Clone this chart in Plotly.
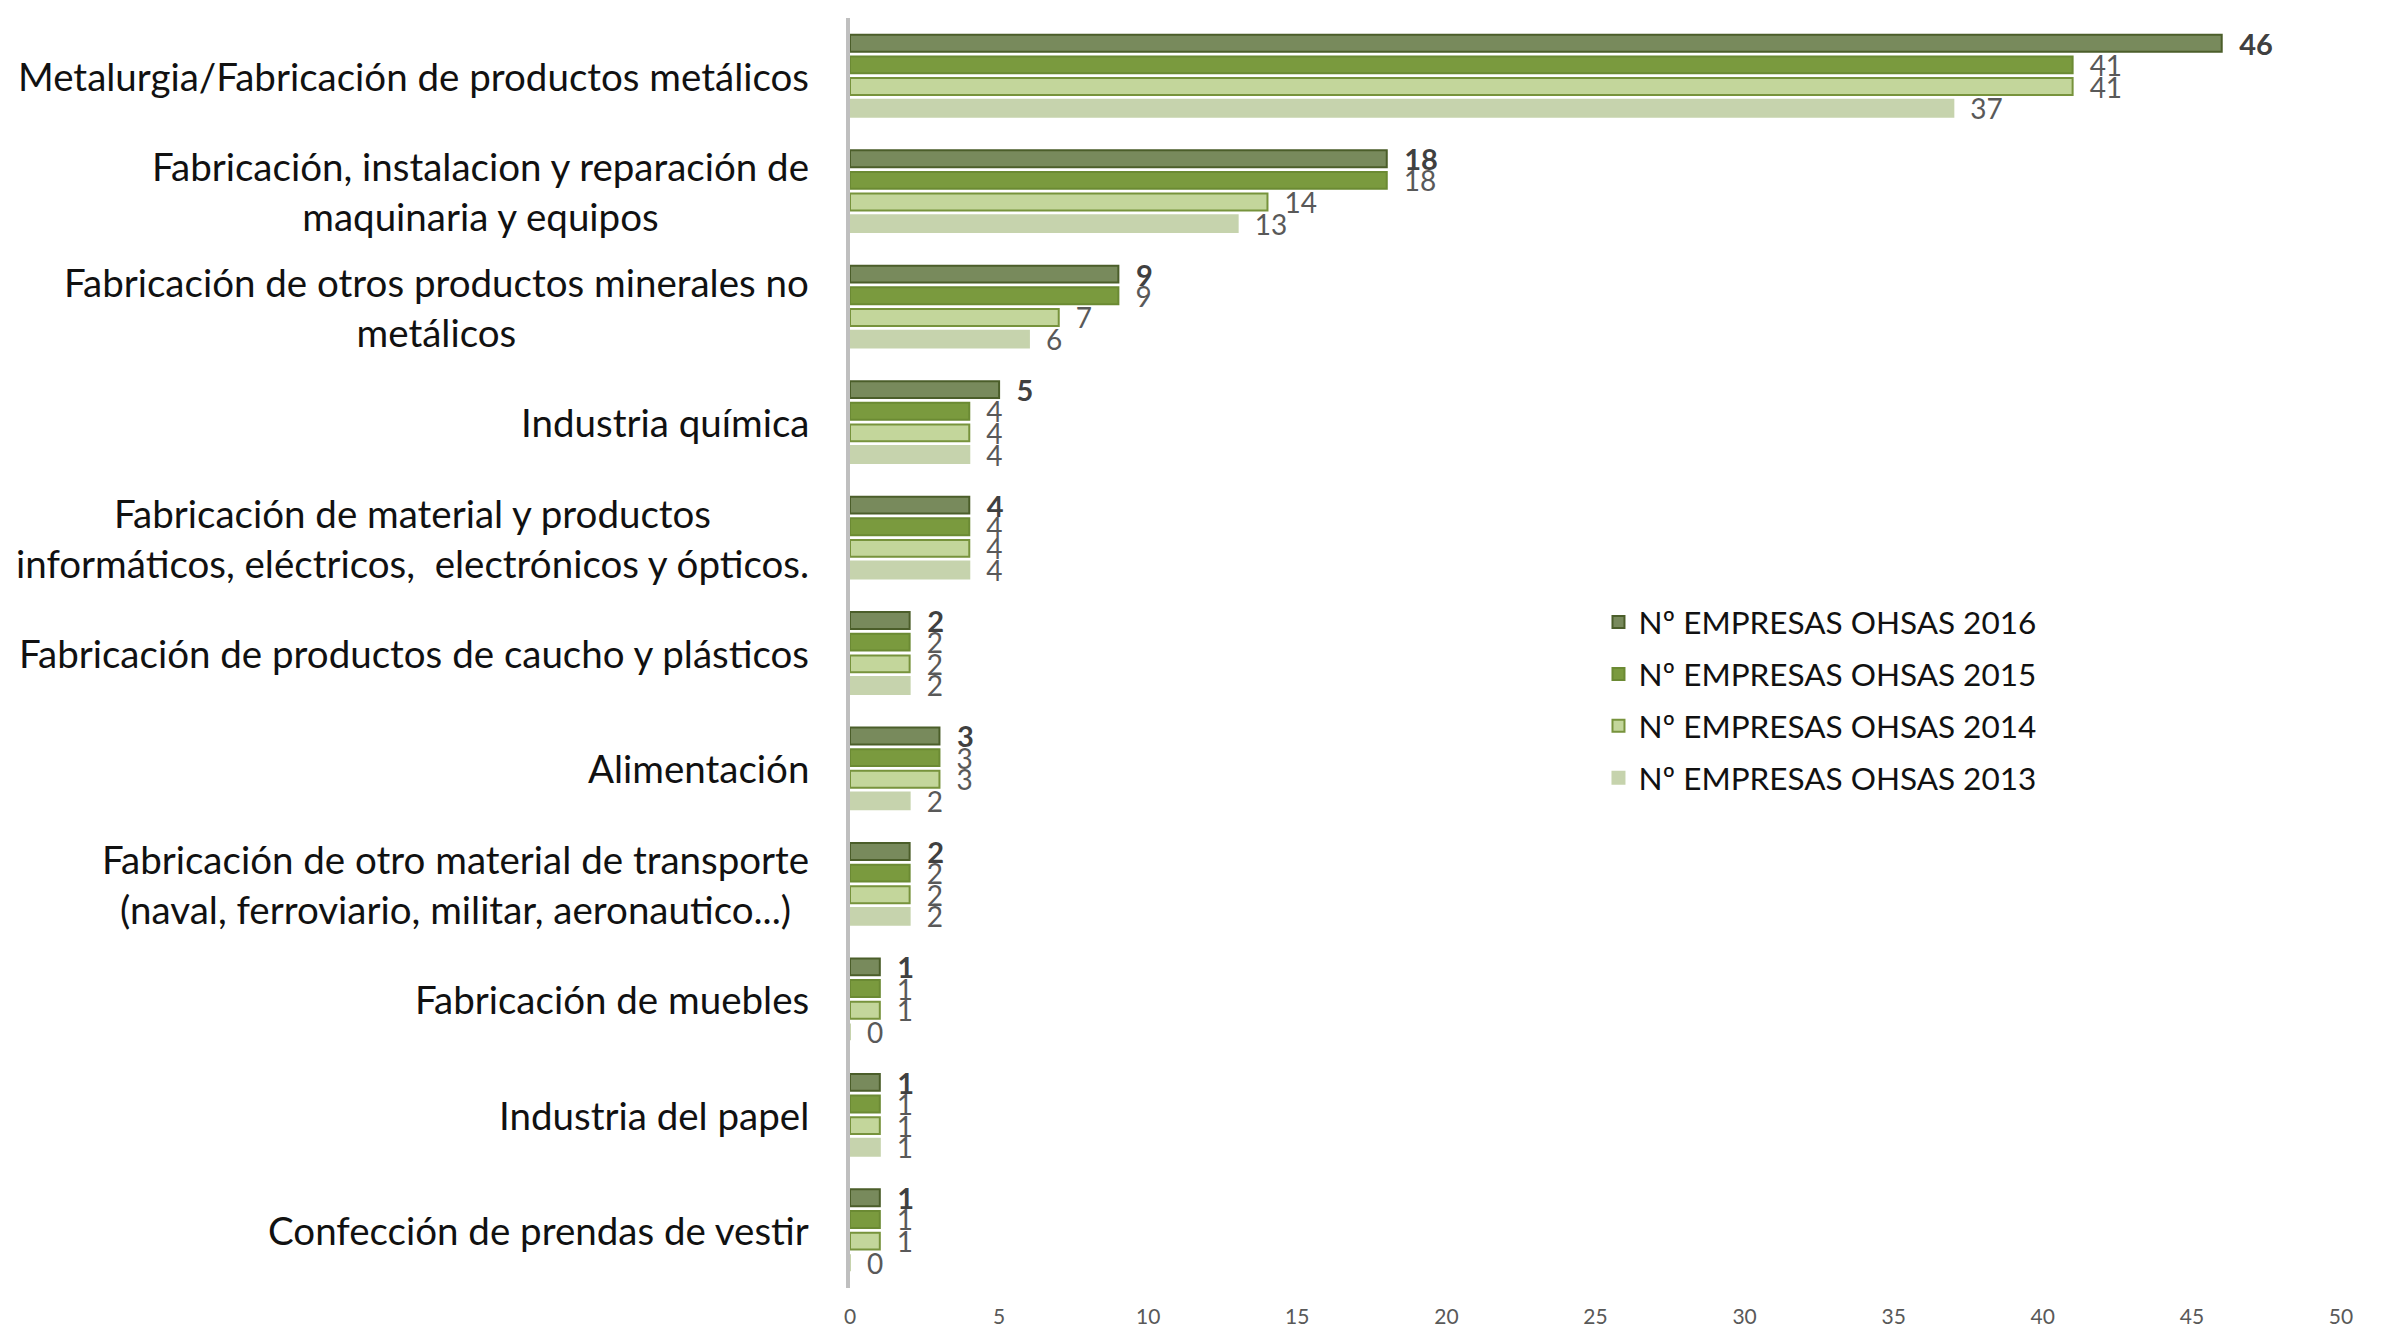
import plotly.graph_objects as go

categories = [
    "Metalurgia/Fabricación de productos metálicos",
    "Fabricación, instalacion y reparación de<br>maquinaria y equipos",
    "Fabricación de otros productos minerales no<br>metálicos",
    "Industria química",
    "Fabricación de material y productos<br>informáticos, eléctricos,  electrónicos y ópticos.",
    "Fabricación de productos de caucho y plásticos",
    "Alimentación",
    "Fabricación de otro material de transporte<br>(naval, ferroviario, militar, aeronautico...)",
    "Fabricación de muebles",
    "Industria del papel",
    "Confección de prendas de vestir",
]
series_names = ["Nº EMPRESAS OHSAS 2016", "Nº EMPRESAS OHSAS 2015",
                "Nº EMPRESAS OHSAS 2014", "Nº EMPRESAS OHSAS 2013"]
v2016 = [46, 18, 9, 5, 4, 2, 3, 2, 1, 1, 1]
v2015 = [41, 18, 9, 4, 4, 2, 3, 2, 1, 1, 1]
v2014 = [41, 14, 7, 4, 4, 2, 3, 2, 1, 1, 1]
v2013 = [37, 13, 6, 4, 4, 2, 2, 2, 0, 1, 0]
x_ticks = [0, 5, 10, 15, 20, 25, 30, 35, 40, 45, 50]

FONT = "Lato"
fills = ["#788a5c", "#7a9a3e", "#c3d69b", "#c6d3ad"]
borders = ["#4b5e2a", "#6b8a33", "#77933c", "#c6d3ad"]
text_fonts = [
    dict(family=FONT, size=29, color="#404040", weight="bold"),
    dict(family=FONT, size=28, color="#595959"),
    dict(family=FONT, size=28, color="#595959"),
    dict(family=FONT, size=28, color="#595959"),
]
ids = list(range(len(categories)))

fig = go.Figure()
for k, (name, vals, fc, bc, tf) in enumerate(zip(series_names, [v2016, v2015, v2014, v2013],
                                                 fills, borders, text_fonts)):
    fig.add_trace(go.Bar(
        name=name, y=ids, x=vals, orientation="h", legendgroup=f"g{k}",
        marker=dict(color=fc, line=dict(color=bc, width=2)),
        text=vals, texttemplate="\u2002%{x}", textposition="outside",
        textfont=tf, constraintext="none", cliponaxis=False,
    ))

for i, c in enumerate(categories):
    fig.add_annotation(x=-0.026, xref="paper", y=i, yref="y", text=c,
                       xanchor="right", yanchor="middle", align="center",
                       showarrow=False,
                       font=dict(family=FONT, size=38.5, color="#111111"))

fig.update_layout(
    width=2385, height=1329,
    margin=dict(l=850, r=44, t=18, b=41, autoexpand=False),
    paper_bgcolor="white", plot_bgcolor="white",
    barmode="group", bargap=0.25, bargroupgap=0.22,
    showlegend=True,
    legend=dict(x=0.502, y=0.463, xanchor="left", yanchor="middle",
                font=dict(family=FONT, size=31.5, color="#111111"),
                traceorder="grouped", tracegroupgap=8,
                bgcolor="rgba(0,0,0,0)"),
    font=dict(family=FONT),
)
fig.update_xaxes(range=[0, 50], tickvals=x_ticks, showgrid=False, zeroline=False,
                 showline=False, ticks="", ticklabelstandoff=14, automargin=False,
                 tickfont=dict(family=FONT, size=21, color="#595959"))
fig.update_yaxes(type="linear", range=[len(categories) - 0.5, -0.5], automargin=False,
                 showticklabels=False, showgrid=False, zeroline=False,
                 showline=True, linecolor="#bfbfbf", linewidth=4, ticks="")

fig.write_html("out.html", config={"displayModeBar": False},
               post_script="document.body.style.margin='0';document.body.style.overflow='hidden';")
